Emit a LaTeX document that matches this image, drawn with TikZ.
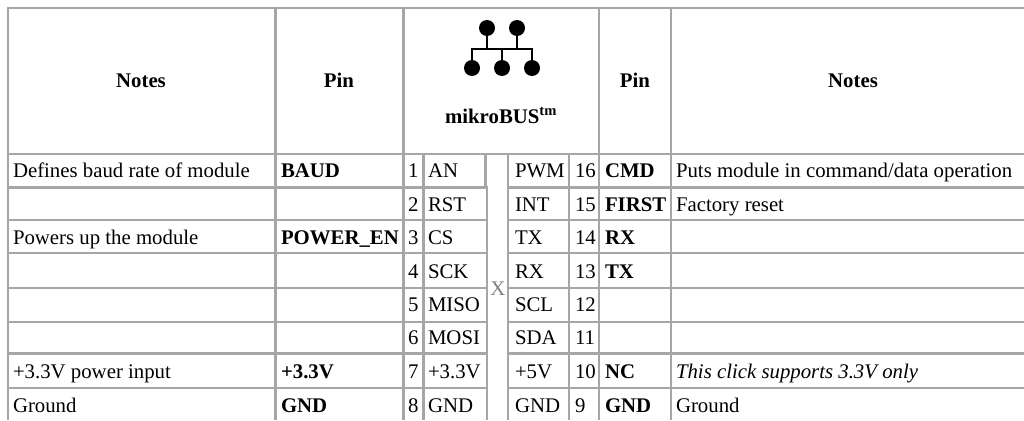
\documentclass[tikz,border=0pt]{standalone}
\usepackage{fontspec}
\setmainfont{Liberation Serif}
\definecolor{rule}{HTML}{A6A6A6}
\definecolor{xgrey}{HTML}{808080}
\tikzset{
  gridline/.style={draw=rule,line width=2.4pt},
  cell/.style={anchor=base west,inner sep=0pt,outer sep=0pt,font=\fontsize{20.8}{24}\selectfont,text=black},
  bcell/.style={cell,font=\fontsize{20.8}{24}\selectfont\bfseries},
  head/.style={anchor=base,inner sep=0pt,outer sep=0pt,font=\fontsize{20.8}{24}\selectfont\bfseries,text=black},
  iconline/.style={draw=black,line width=2.8pt},
  icondot/.style={circle,fill=black,minimum size=16pt,inner sep=0pt,outer sep=0pt}
}
\begin{document}
\begin{tikzpicture}[x=1pt,y=-1pt]
\useasboundingbox (0,0) rectangle (1024,420);
% grid
\draw[gridline] (7.5,8) -- (1024,8);
\draw[gridline] (7.5,154) -- (1024,154);
\foreach \y in {187.5,220,253,288,322,353.5,388}{
  \draw[gridline] (7.5,\y) -- (487.5,\y);
  \draw[gridline] (508,\y) -- (1024,\y);
}
\draw[gridline] (8,7) -- (8,420);
\foreach \x in {275.5,403.5,599,671}{\draw[gridline] (\x,7) -- (\x,420);}
\foreach \x in {423.5,508,569}{\draw[gridline] (\x,154) -- (\x,420);}
\draw[gridline,line width=3.2pt] (485.8,154) -- (485.8,187.5);
\draw[gridline] (487,187.5) -- (487,420);
% icon
\node[icondot] (t1) at (487,28) {};
\node[icondot] (t2) at (517,28) {};
\node[icondot] (b1) at (472,68) {};
\node[icondot] (b2) at (502,68) {};
\node[icondot] (b3) at (532,68) {};
\coordinate (j1) at (472,49);
\coordinate (j2) at (487,49);
\coordinate (j3) at (502,49);
\coordinate (j4) at (517,49);
\coordinate (j5) at (532,49);
\draw[iconline,line join=miter] (b1.center) -- (j1) -- (j5) -- (b3.center);
\draw[iconline] (t1.center) -- (j2);
\draw[iconline] (t2.center) -- (j4);
\draw[iconline] (b2.center) -- (j3);
% header
\node[head] (hn1) at (141,87) {Notes};
\node[head] (hp1) at (339,87) {Pin};
\node[head] (hm) at (501,123) {mikroBUS\textsuperscript{tm}};
\node[head] (hp2) at (635,87) {Pin};
\node[head] (hn2) at (853,87) {Notes};
% left notes
\node[cell] (n1) at (13,177) {Defines baud rate of module};
\node[cell] (n3) at (13,244) {Powers up the module};
\node[cell] (n7) at (13,378) {+3.3V power input};
\node[cell] (n8) at (13,412) {Ground};
% left pin
\node[bcell] (p1) at (281,177) {BAUD};
\node[bcell] (p3) at (281,244) {POWER\_EN};
\node[bcell] (p7) at (281,378) {+3.3V};
\node[bcell] (p8) at (281,412) {GND};
% numbers left and names
\node[cell] (a1) at (408,177) {1}; \node[cell] (m1) at (428,177) {AN};
\node[cell] (a2) at (408,211) {2}; \node[cell] (m2) at (428,211) {RST};
\node[cell] (a3) at (408,244) {3}; \node[cell] (m3) at (428,244) {CS};
\node[cell] (a4) at (408,278) {4}; \node[cell] (m4) at (428,278) {SCK};
\node[cell] (a5) at (408,311) {5}; \node[cell] (m5) at (428,311) {MISO};
\node[cell] (a6) at (408,344) {6}; \node[cell] (m6) at (428,344) {MOSI};
\node[cell] (a7) at (408,378) {7}; \node[cell] (m7) at (428,378) {+3.3V};
\node[cell] (a8) at (408,412) {8}; \node[cell] (m8) at (428,412) {GND};
% X
\node[cell,anchor=base,text=xgrey] (xx) at (498,295) {X};
% right names and numbers
\node[cell] (r1) at (515,177) {PWM}; \node[cell] (c1) at (575,177) {16};
\node[cell] (r2) at (515,211) {INT}; \node[cell] (c2) at (575,211) {15};
\node[cell] (r3) at (515,244) {TX}; \node[cell] (c3) at (575,244) {14};
\node[cell] (r4) at (515,278) {RX}; \node[cell] (c4) at (575,278) {13};
\node[cell] (r5) at (515,311) {SCL}; \node[cell] (c5) at (575,311) {12};
\node[cell] (r6) at (515,344) {SDA}; \node[cell] (c6) at (575,344) {11};
\node[cell] (r7) at (515,378) {+5V}; \node[cell] (c7) at (575,378) {10};
\node[cell] (r8) at (515,412) {GND}; \node[cell] (c8) at (575,412) {9};
% right pin
\node[bcell] (q1) at (605,177) {CMD};
\node[bcell] (q2) at (605,211) {FIRST};
\node[bcell] (q3) at (605,244) {RX};
\node[bcell] (q4) at (605,278) {TX};
\node[bcell] (q7) at (605,378) {NC};
\node[bcell] (q8) at (605,412) {GND};
% right notes
\node[cell] (s1) at (676,177) {Puts module in command/data operation};
\node[cell] (s2) at (676,211) {Factory reset};
\node[cell,font=\fontsize{20.8}{24}\selectfont\itshape] (s7) at (676,378) {This click supports 3.3V only};
\node[cell] (s8) at (676,412) {Ground};
\end{tikzpicture}
\end{document}
